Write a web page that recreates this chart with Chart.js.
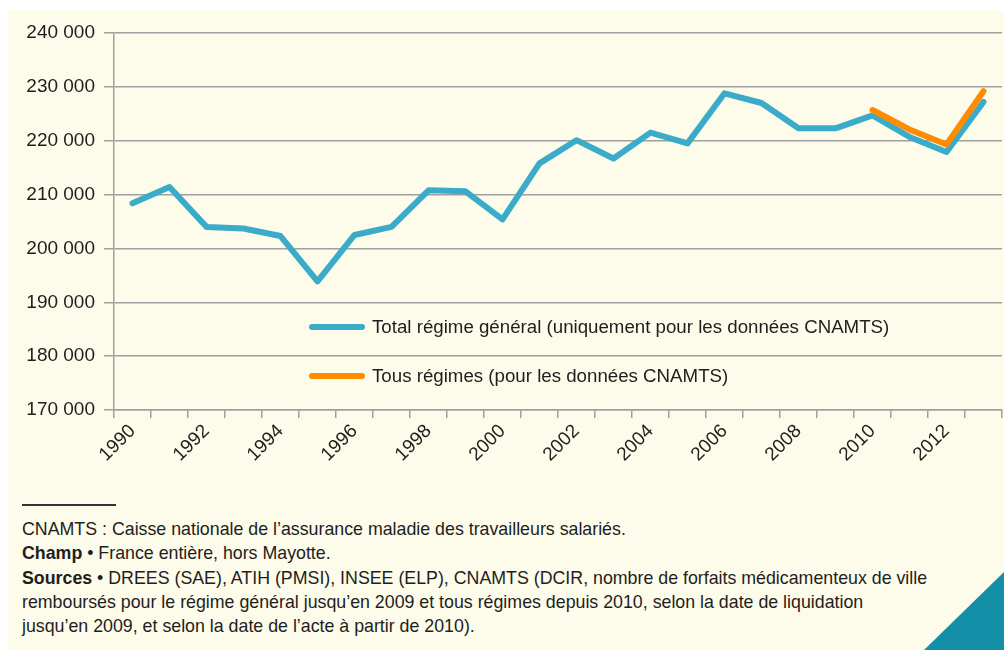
<!DOCTYPE html>
<html>
<head>
<meta charset="utf-8">
<script src="https://cdn.jsdelivr.net/npm/chart.js@4"></script>
<style>
  html, body { margin: 0; padding: 0; background: #fff; }
  body { width: 1004px; height: 650px; position: relative; overflow: hidden; font-family: "Liberation Sans", Arial, sans-serif; }
  .bg { position: absolute; left: 8px; top: 10px; right: 0; bottom: 0; background: #fdfbe9; }
  .chart { position: absolute; left: 0; top: 0; width: 1004px; height: 470px; }
  .rule { position: absolute; left: 22px; top: 504px; width: 94px; height: 2px; background: #333; }
  .notes { position: absolute; left: 22px; top: 517px; font-size: 17.8px; line-height: 24.3px; color: #1e1e1e; white-space: nowrap; }
  .notes b { font-weight: bold; }
  .corner { position: absolute; right: 0; bottom: 0; width: 80px; height: 78px; background: #128ea6; clip-path: polygon(100% 0, 100% 100%, 0 100%); }
</style>
</head>
<body>
<div class="bg"></div>
<div class="chart"><canvas id="forfaits"></canvas></div>
<div class="rule"></div>
<div class="notes">
  CNAMTS : Caisse nationale de l’assurance maladie des travailleurs salariés.<br>
  <b>Champ</b> • France entière, hors Mayotte.<br>
  <b>Sources</b> • DREES (SAE), ATIH (PMSI), INSEE (ELP), CNAMTS (DCIR, nombre de forfaits médicamenteux de ville<br>
  remboursés pour le régime général jusqu’en 2009 et tous régimes depuis 2010, selon la date de liquidation<br>
  jusqu’en 2009, et selon la date de l’acte à partir de 2010).
</div>
<div class="corner"></div>
<script>
const years = ["1990", "1991", "1992", "1993", "1994", "1995", "1996", "1997", "1998", "1999", "2000", "2001",
  "2002", "2003", "2004", "2005", "2006", "2007", "2008", "2009", "2010", "2011", "2012", "2013"];

const totalRegimeGeneral = [208400, 211400, 204000, 203700, 202300, 193900, 202500, 204000, 210800, 210600, 205400, 215800,
  220100, 216700, 221500, 219500, 228800, 227000, 222300, 222300, 224700, 220700, 217900, 227200];

const tousRegimes = [null, null, null, null, null, null, null, null, null, null, null, null,
  null, null, null, null, null, null, null, null, 225700, 222100, 219300, 229200];

const yMin = 170000;
const yMax = 240000;
const yStep = 10000;

const fmt = (v) => String(v).replace(/\B(?=(\d{3})+(?!\d))/g, " ");

// legend drawn inside the plot, like the original
const innerLegend = {
  id: "innerLegend",
  afterDatasetsDraw(chart) {
    const ctx = chart.ctx;
    const rows = [chart.data.datasets[1], chart.data.datasets[0]];
    const x0 = 312, y0 = 327, gap = 49;
    ctx.save();
    ctx.font = "18.7px 'Liberation Sans', Arial, sans-serif";
    ctx.textBaseline = "middle";
    ctx.fillStyle = "#1e1e1e";
    rows.forEach((ds, i) => {
      const y = y0 + i * gap;
      ctx.strokeStyle = ds.borderColor;
      ctx.lineWidth = 6;
      ctx.lineCap = "round";
      ctx.beginPath();
      ctx.moveTo(x0, y);
      ctx.lineTo(x0 + 50, y);
      ctx.stroke();
      ctx.fillText(ds.label, x0 + 60, y + 1);
    });
    ctx.restore();
  }
};

Chart.defaults.font.family = "'Liberation Sans', Arial, sans-serif";
Chart.defaults.color = "#1e1e1e";

new Chart(document.getElementById("forfaits"), {
  type: "line",
  data: {
    labels: years,
    datasets: [
      {
        label: "Tous régimes (pour les données CNAMTS)",
        data: tousRegimes,
        borderColor: "#ff8c00",
        borderWidth: 6,
        borderJoinStyle: "round",
        borderCapStyle: "round",
        pointRadius: 0,
        tension: 0,
        order: 0,
      },
      {
        label: "Total régime général (uniquement pour les données CNAMTS)",
        data: totalRegimeGeneral,
        borderColor: "#3aabc8",
        borderWidth: 6,
        borderJoinStyle: "round",
        borderCapStyle: "round",
        pointRadius: 0,
        tension: 0,
        order: 1,
      },
    ],
  },
  options: {
    responsive: true,
    maintainAspectRatio: false,
    animation: false,
    layout: { padding: { top: 33, right: 2, left: 0, bottom: 0 } },
    plugins: { legend: { display: false }, tooltip: { enabled: false } },
    scales: {
      x: {
        offset: true,
        grid: { offset: true, drawOnChartArea: false, tickLength: 8, color: "#a0a0a0", lineWidth: 1.5 },
        border: { color: "#a0a0a0", width: 1.5 },
        ticks: {
          autoSkip: false,
          maxRotation: 45,
          minRotation: 45,
          padding: 2,
          font: { size: 19 },
          callback: function (v, i) { return i % 2 === 0 ? years[i] : ""; },
        },
        afterFit: (s) => { s.height = 60; },
      },
      y: {
        min: yMin,
        max: yMax,
        grid: { tickLength: 10, color: "#a0a0a0", lineWidth: 1.5 },
        border: { color: "#a0a0a0", width: 1.5 },
        ticks: { stepSize: yStep, padding: 9, font: { size: 19 }, callback: (v) => fmt(v) },
        afterFit: (s) => { s.width = 114; },
      },
    },
  },
  plugins: [innerLegend],
});
</script>
</body>
</html>
